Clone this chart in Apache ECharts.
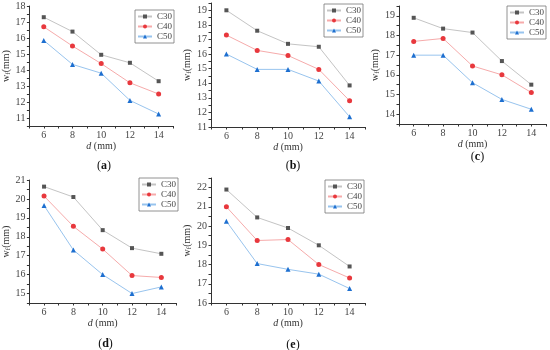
<!DOCTYPE html>
<html>
<head>
<meta charset="utf-8">
<script src="https://cdn.jsdelivr.net/npm/echarts@6/dist/echarts.min.js"></script>
<style>
html,body{margin:0;padding:0;background:#fff;}
#chart{width:550px;height:350px;}
</style>
</head>
<body>
<div id="chart"></div>
<script>
// ---- data ----
const dValues = [6, 8, 10, 12, 14];
const xTickLabels = [6, 8, 10, 12, 14];
const seriesNames = ['C30', 'C40', 'C50'];
const panelLabels = ['a', 'b', 'c', 'd', 'e'];

const aC30 = [17.3, 16.4, 14.95, 14.45, 13.3];
const aC40 = [16.7, 15.5, 14.4, 13.2, 12.5];
const aC50 = [15.85, 14.35, 13.8, 12.1, 11.25];

const bC30 = [19.0, 17.6, 16.7, 16.5, 13.85];
const bC40 = [17.3, 16.25, 15.9, 14.95, 12.8];
const bC50 = [16.0, 14.95, 14.95, 14.15, 11.7];

const cC30 = [18.9, 18.35, 18.15, 16.7, 15.5];
const cC40 = [17.7, 17.85, 16.45, 16.0, 15.1];
const cC50 = [17.0, 17.0, 15.6, 14.75, 14.25];

const dC30 = [20.65, 20.1, 18.35, 17.4, 17.1];
const dC40 = [20.15, 18.55, 17.35, 15.95, 15.85];
const dC50 = [19.65, 17.3, 16.0, 15.0, 15.35];

const eC30 = [21.9, 20.45, 19.9, 19.0, 17.9];
const eC40 = [21.0, 19.25, 19.3, 18.0, 17.3];
const eC50 = [20.25, 18.05, 17.75, 17.5, 16.75];

const yMins = [10.5, 11, 13.5, 14.5, 16];
const yMaxs = [18, 19.5, 19.5, 21, 22.5];

const panelData = [
  [aC30, aC40, aC50],
  [bC30, bC40, bC50],
  [cC30, cC40, cC50],
  [dC30, dC40, dC50],
  [eC30, eC40, eC50]
];

// ---- layout / style ----
const grids = [
  {left: 25, top: 6, width: 148, height: 120},
  {left: 211, top: 3, width: 154, height: 124},
  {left: 399, top: 6, width: 147, height: 118},
  {left: 25, top: 180, width: 151, height: 123},
  {left: 211, top: 178, width: 154, height: 125}
];
const yNameGaps = [11, 14, 14, 12, 14];
const legendPos = [
  {left: 135, top: 10},
  {left: 324, top: 4},
  {left: 507, top: 6},
  {left: 139, top: 178},
  {left: 325, top: 180}
];
const captionY = [155, 155, 146, 333, 334];

const serif = 'Liberation Serif';
const lineColors = ['#c4c4c4', '#f6abab', '#98c4ee'];
const markColors = ['#555555', '#e8383d', '#1d6fd0'];
const symbols = ['rect', 'circle', 'triangle'];
const symbolSizes = [4, 5, 5];

const isInt = v => Math.abs(v - Math.round(v)) < 1e-6;

const xAxes = [], yAxes = [], series = [], legends = [], titles = [];
grids.forEach((g, i) => {
  xAxes.push({
    type: 'value', gridIndex: i, min: 5, max: 15, interval: 1,
    name: '{i|d} (mm)', nameLocation: 'middle', nameGap: 10,
    nameTextStyle: {fontFamily: serif, fontSize: 10, color: '#333',
      rich: {i: {fontFamily: serif, fontStyle: 'italic', fontSize: 10, color: '#333'}}},
    axisLine: {show: true, lineStyle: {color: '#333', width: 1}},
    axisTick: {show: true, length: 2.5, lineStyle: {color: '#333'}},
    axisLabel: {fontFamily: serif, fontSize: 10, color: '#444', margin: 4,
      formatter: v => (xTickLabels.indexOf(Math.round(v)) >= 0 && isInt(v)) ? String(Math.round(v)) : ''},
    splitLine: {show: false}
  });
  yAxes.push({
    type: 'value', gridIndex: i, min: yMins[i], max: yMaxs[i], interval: 0.5,
    name: '{w|w}{s|f}{w|(mm)}', nameLocation: 'middle', nameGap: yNameGaps[i], nameRotate: 90,
    nameTextStyle: {fontFamily: serif, fontSize: 10, color: '#333',
      rich: {
        w: {fontFamily: serif, fontSize: 10, color: '#333'},
        s: {fontFamily: serif, fontSize: 7, color: '#333', verticalAlign: 'bottom', padding: [4, 0, 0, 0]}
      }},
    axisLine: {show: true, lineStyle: {color: '#333', width: 1}},
    axisTick: {show: true, length: 2.5, lineStyle: {color: '#333'}},
    axisLabel: {fontFamily: serif, fontSize: 10, color: '#444', margin: 4,
      formatter: v => isInt(v) ? String(Math.round(v)) : ''},
    splitLine: {show: false}
  });
  seriesNames.forEach((name, k) => {
    series.push({
      type: 'line', name: name, xAxisIndex: i, yAxisIndex: i,
      data: dValues.map((d, j) => [d, panelData[i][k][j]]),
      symbol: symbols[k], symbolSize: symbolSizes[k], showAllSymbol: true,
      lineStyle: {color: lineColors[k], width: 1},
      itemStyle: {color: markColors[k]},
      emphasis: {disabled: true}
    });
  });
  legends.push({
    orient: 'vertical', left: legendPos[i].left, top: legendPos[i].top,
    data: seriesNames, itemWidth: 14, itemHeight: 5, itemGap: 1,
    padding: [2, 2, 2, 2], borderColor: '#777', borderWidth: 0.8, borderRadius: 0,
    textStyle: {fontFamily: serif, fontSize: 9, color: '#444', lineHeight: 8},
    selectedMode: false
  });
  titles.push({
    text: '(' + '{b|' + panelLabels[i] + '}' + ')',
    left: g.left + g.width / 2, top: captionY[i], textAlign: 'center',
    textStyle: {fontFamily: serif, fontSize: 12, fontWeight: 'normal', color: '#111',
      rich: {b: {fontFamily: serif, fontSize: 12, fontWeight: 'bold', color: '#111'}}}
  });
});

const chart = echarts.init(document.getElementById('chart'), null, {renderer: 'canvas'});
chart.setOption({
  animation: false,
  backgroundColor: '#ffffff',
  title: titles,
  grid: grids,
  xAxis: xAxes,
  yAxis: yAxes,
  legend: legends,
  series: series
});
</script>
</body>
</html>
